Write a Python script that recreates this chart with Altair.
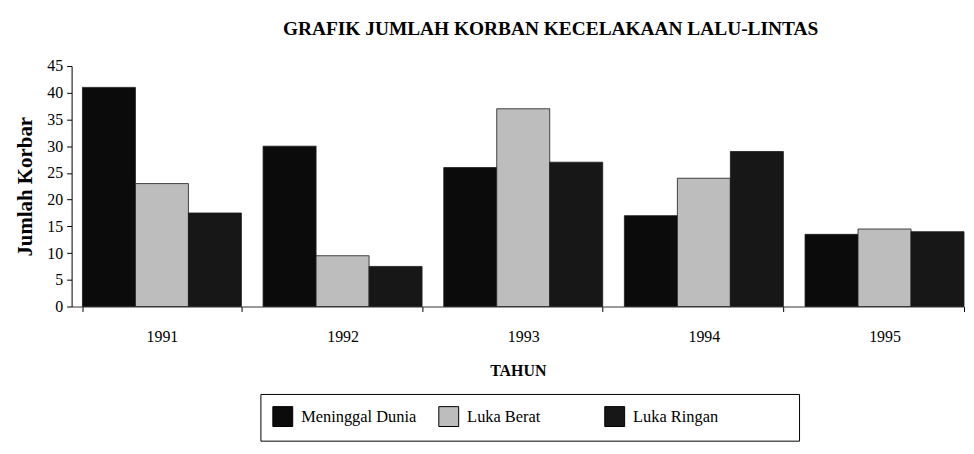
import altair as alt
import pandas as pd

years = ["1991", "1992", "1993", "1994", "1995"]
series = ["Meninggal Dunia", "Luka Berat", "Luka Ringan"]
meninggal = [41, 30, 26, 17, 13.5]
luka_berat = [23, 9.5, 37, 24, 14.5]
luka_ringan = [17.5, 7.5, 27, 29, 14]
colors = ["#0b0b0b", "#bdbdbd", "#171717"]

rows = []
for i, y in enumerate(years):
    for s, vals in zip(series, [meninggal, luka_berat, luka_ringan]):
        rows.append({"Tahun": y, "Kategori": s, "Jumlah": vals[i]})
df = pd.DataFrame(rows)

font = "Liberation Serif"

chart = alt.Chart(df).mark_bar(stroke="#1a1a1a", strokeWidth=0.8).encode(
    x=alt.X("Tahun:N", title="TAHUN",
            scale=alt.Scale(paddingInner=0.12, paddingOuter=0.03, align=1),
            axis=alt.Axis(labelAngle=0, tickBand="extent", labelFont=font, labelFontSize=16,
                          labelColor="black", tickColor="black", domainColor="#333333",
                          tickSize=5, labelPadding=17, titleFont=font, titleFontSize=16,
                          titleFontWeight="bold", titleColor="black", titlePadding=18)),
    xOffset=alt.XOffset("Kategori:N", sort=series,
                        scale=alt.Scale(paddingInner=0, paddingOuter=0)),
    y=alt.Y("Jumlah:Q", title="Jumlah Korbar",
            scale=alt.Scale(domain=[0, 45], nice=False),
            axis=alt.Axis(values=list(range(0, 46, 5)), grid=False, labelFont=font,
                          labelFontSize=16, labelColor="black", tickColor="black",
                          domainColor="black", tickSize=5, labelPadding=4,
                          titleFont=font, titleFontSize=21, titleFontWeight="bold",
                          titleColor="black", titlePadding=11)),
    color=alt.Color("Kategori:N", sort=series,
                    scale=alt.Scale(domain=series, range=colors),
                    legend=alt.Legend(title=" ", titleOrient="right", titlePadding=69,
                                      orient="none", legendX=190, legendY=330,
                                      direction="horizontal", columns=3, gridAlign="all",
                                      columnPadding=20, symbolType="square", symbolSize=400,
                                      symbolStrokeColor="black", symbolStrokeWidth=1,
                                      labelFont=font, labelFontSize=16.5, labelColor="black",
                                      labelOffset=8, strokeColor="black", padding=12,
                                      fillColor="white")),
).properties(
    width=898,
    height=242,
    title=alt.TitleParams("GRAFIK JUMLAH KORBAN KECELAKAAN LALU-LINTAS", font=font,
                          fontSize=19.5, fontWeight="bold", color="black", anchor="middle",
                          dx=33, offset=19),
    autosize=alt.AutoSizeParams(type="none"),
    padding={"left": 64, "top": 57, "right": 2, "bottom": 140},
).configure_view(stroke=None)

chart.save("out.html", embed_options={"renderer": "svg", "actions": False})
